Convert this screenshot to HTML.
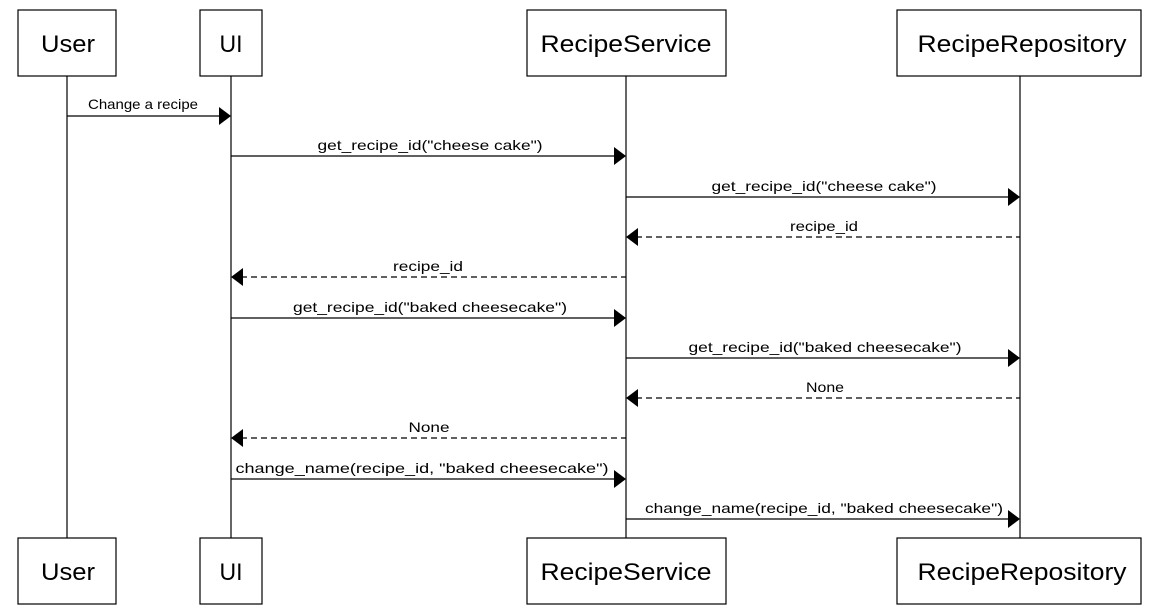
<!DOCTYPE html>
<html><head><style>
body{margin:0;background:#fff;}
svg text{font-family:"Liberation Sans",sans-serif;}
</style></head><body>
<svg width="1159" height="611" xmlns="http://www.w3.org/2000/svg">
<g stroke="#000" stroke-width="1.2">
<line x1="67" y1="76" x2="67" y2="538"/>
<line x1="231" y1="76" x2="231" y2="538"/>
<line x1="626" y1="76" x2="626" y2="538"/>
<line x1="1020" y1="76" x2="1020" y2="538"/>
</g>
<g fill="#fff" stroke="#000" stroke-width="1.2">
<rect x="18" y="10" width="98" height="66"/><rect x="200" y="10" width="62" height="66"/>
<rect x="527" y="10" width="199" height="66"/><rect x="897" y="10" width="244" height="66"/>
<rect x="18" y="538" width="98" height="66"/><rect x="200" y="538" width="62" height="66"/>
<rect x="527" y="538" width="199" height="66"/><rect x="897" y="538" width="244" height="66"/>
</g>
<g font-size="24" text-anchor="middle" lengthAdjust="spacingAndGlyphs">
<text x="68" y="52" textLength="54" lengthAdjust="spacingAndGlyphs">User</text><text x="231" y="52" textLength="23" lengthAdjust="spacingAndGlyphs">UI</text><text x="626" y="52" textLength="171" lengthAdjust="spacingAndGlyphs">RecipeService</text><text x="1022" y="52" textLength="209" lengthAdjust="spacingAndGlyphs">RecipeRepository</text>
<text x="68" y="580" textLength="54" lengthAdjust="spacingAndGlyphs">User</text><text x="231" y="580" textLength="23" lengthAdjust="spacingAndGlyphs">UI</text><text x="626" y="580" textLength="171" lengthAdjust="spacingAndGlyphs">RecipeService</text><text x="1022" y="580" textLength="209" lengthAdjust="spacingAndGlyphs">RecipeRepository</text>
</g>
<g stroke="#000" stroke-width="1.2">
<line x1="67" y1="116" x2="221" y2="116"/>
<line x1="231" y1="156" x2="616" y2="156"/>
<line x1="626" y1="197" x2="1010" y2="197"/>
<line x1="636" y1="237" x2="1020" y2="237" stroke-dasharray="6,4"/>
<line x1="241" y1="277" x2="626" y2="277" stroke-dasharray="6,4"/>
<line x1="231" y1="318" x2="616" y2="318"/>
<line x1="626" y1="358" x2="1010" y2="358"/>
<line x1="636" y1="398" x2="1020" y2="398" stroke-dasharray="6,4"/>
<line x1="241" y1="438" x2="626" y2="438" stroke-dasharray="6,4"/>
<line x1="231" y1="479" x2="616" y2="479"/>
<line x1="626" y1="519" x2="1010" y2="519"/>
</g>
<g fill="#000">
<polygon points="219,107 231,116 219,125"/>
<polygon points="614,147 626,156 614,165"/>
<polygon points="1008,188 1020,197 1008,206"/>
<polygon points="638,228 626,237 638,246"/>
<polygon points="243,268 231,277 243,286"/>
<polygon points="614,309 626,318 614,327"/>
<polygon points="1008,349 1020,358 1008,367"/>
<polygon points="638,389 626,398 638,407"/>
<polygon points="243,429 231,438 243,447"/>
<polygon points="614,470 626,479 614,488"/>
<polygon points="1008,510 1020,519 1008,528"/>
</g>
<g font-size="14" text-anchor="middle">
<text x="143" y="109" textLength="110" lengthAdjust="spacingAndGlyphs">Change a recipe</text>
<text x="430" y="150" textLength="225" lengthAdjust="spacingAndGlyphs">get_recipe_id("cheese cake")</text>
<text x="824" y="191" textLength="225" lengthAdjust="spacingAndGlyphs">get_recipe_id("cheese cake")</text>
<text x="824" y="231" textLength="68" lengthAdjust="spacingAndGlyphs">recipe_id</text>
<text x="428" y="271" textLength="70" lengthAdjust="spacingAndGlyphs">recipe_id</text>
<text x="430" y="312" textLength="274" lengthAdjust="spacingAndGlyphs">get_recipe_id("baked cheesecake")</text>
<text x="825" y="352" textLength="273" lengthAdjust="spacingAndGlyphs">get_recipe_id("baked cheesecake")</text>
<text x="825" y="392" textLength="38" lengthAdjust="spacingAndGlyphs">None</text>
<text x="429" y="432" textLength="41" lengthAdjust="spacingAndGlyphs">None</text>
<text x="422" y="473" textLength="373" lengthAdjust="spacingAndGlyphs">change_name(recipe_id, "baked cheesecake")</text>
<text x="824" y="513" textLength="358" lengthAdjust="spacingAndGlyphs">change_name(recipe_id, "baked cheesecake")</text>
</g>
</svg>
</body></html>
